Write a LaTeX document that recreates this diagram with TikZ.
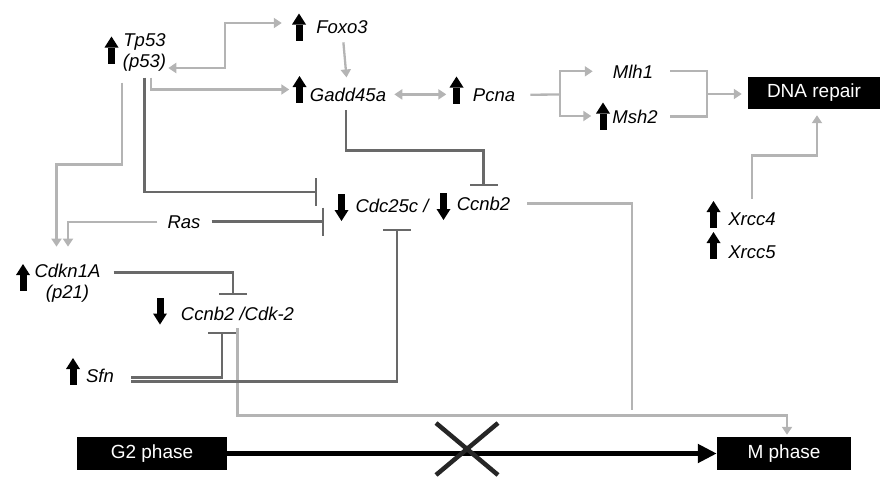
\documentclass[tikz,border=0pt]{standalone}
\usepackage{fontspec}
\setmainfont{Liberation Sans}
\usepackage{tikz}
\usetikzlibrary{positioning, arrows.meta, calc}

\definecolor{lightgrey}{RGB}{180,180,180}
\definecolor{darkgrey}{RGB}{105,105,105}

\tikzset{
    tri/.tip={Triangle[length=8pt,width=10pt]},
    tbar/.tip={Bar[width=28pt]},
    gene/.style={font=\fontsize{18.5}{21}\selectfont\itshape, inner sep=0pt, anchor=base},
    phase/.style={fill=black, text=white, font=\fontsize{19}{21}\selectfont, inner sep=0pt, minimum height=33pt},
    act/.style={draw=lightgrey, line width=2.3pt, -tri},
    inh/.style={draw=darkgrey, line width=2.6pt, -tbar},
    markbox/.style={minimum width=14pt, minimum height=27pt, inner sep=0pt},
    upmark/.pic={
        \fill (-3.5,13.5) rectangle (3.5,-2.5);
        \fill (-7,-2.5) -- (0,-13.5) -- (7,-2.5) -- cycle;
        \node[markbox] (-m) at (0,0) {};
    },
    downmark/.pic={
        \fill (-3.5,-13.5) rectangle (3.5,2.5);
        \fill (-7,2.5) -- (0,13.5) -- (7,2.5) -- cycle;
        \node[markbox] (-m) at (0,0) {};
    },
}

\begin{document}
\begin{tikzpicture}[x=1pt, y=-1pt]
    \useasboundingbox (0,0) rectangle (881,477);

    \node[gene, anchor=center, align=center] (tp) at (144.5,52.5) {Tp53\\(p53)};
    \node[gene] (foxo) at (342,33) {Foxo3};
    \node[gene] (gadd) at (348,101) {Gadd45a};
    \node[gene] (pcna) at (494,101) {Pcna};
    \node[gene] (mlh) at (633,78) {Mlh1};
    \node[gene] (msh) at (635,123) {Msh2};
    \node[gene] (xrccfour) at (752,225) {Xrcc4};
    \node[gene, below of=xrccfour, node distance=33pt] (xrccfive) {Xrcc5};
    \node[gene] (cdc) at (392,212) {Cdc25c /};
    \node[gene] (ccnb) at (483.5,210) {Ccnb2};
    \node[gene] (ras) at (184,228) {Ras};
    \node[gene, anchor=center, align=center] (cdkn) at (67.5,283.5) {Cdkn1A\\(p21)};
    \node[gene] (cdktwo) at (237.5,320) {Ccnb2 /Cdk-2};
    \node[gene] (sfn) at (100,382) {Sfn};

    \node[phase, minimum width=150pt] (gtwo) at (152,453.5) {G2 phase};
    \node[phase, minimum width=134pt] (mph) at (784,453.5) {M phase};
    \node[phase, minimum width=132pt, minimum height=32pt] (dna) at (814,93) {DNA repair};

    \pic (tpup) at (111.5,50) {upmark};
    \pic (foxoup) at (299,27) {upmark};
    \pic (gaddup) at (299.5,89.5) {upmark};
    \pic (pcnaup) at (456.5,90) {upmark};
    \pic (mshup) at (603,116) {upmark};
    \pic (xrccfourup) at (713.5,214.5) {upmark};
    \pic (xrccfiveup) at (713.5,245.5) {upmark};
    \pic (cdknup) at (23,277.5) {upmark};
    \pic (cdcdown) at (341.5,207.5) {downmark};
    \pic (ccnbdown) at (443.5,206.5) {downmark};
    \pic (cdktwodown) at (160,311) {downmark};
    \pic (sfnup) at (73,371.5) {upmark};

    \coordinate (split) at (560,94.5);
    \coordinate (merge) at (707,94);
    \coordinate (join) at (632,407);

    % activation
    \draw[act, tri-tri] ([xshift=2pt,yshift=-15.5pt]tp.east) -- ++(57,0) |- ([xshift=-10pt,yshift=4pt]foxoup-m.west);
    \draw[act, shorten <=9pt, shorten >=10pt] (foxo) -- (gadd);
    \draw[act] ([xshift=6.5pt,yshift=-6pt]tp.south) |- ([xshift=-3pt]gaddup-m.west);
    \draw[act, tri-tri, shorten <=8pt, shorten >=3pt] (gadd.east) -- (gadd.east -| pcnaup-m.west);
    \draw[act, -] ([xshift=15pt]pcna.east) -- (split);
    \draw[act] (split) |- ([xshift=-20pt]mlh.west);
    \draw[act] (split) |- ([xshift=-4.5pt]mshup-m.west);
    \draw[act, -] ([xshift=17pt]mlh.east) -| (merge) |- ([xshift=12pt]msh.east);
    \draw[act, shorten >=6pt] (merge) -- (merge -| dna.west);
    \draw[act, shorten >=6pt] ([yshift=13.5pt]xrccfour.north) -- ++(0,-43) -| ([xshift=3pt]dna.south);
    \draw[act] ([xshift=-22.5pt,yshift=-11pt]tp.south) -- ++(0,82) -| ([xshift=-11pt,yshift=17.5pt]cdkn.north);
    \draw[act] ([xshift=-10pt]ras.west) -| ([xshift=0.5pt,yshift=17.5pt]cdkn.north);
    \draw[act] ([yshift=-8pt]cdktwo.south) -- ++(0,87) -| ([xshift=3pt,yshift=2pt]mph.north);
    \draw[act, -] ([xshift=17pt]ccnb.east) -| ([yshift=-3pt]join);

    % inhibition
    \draw[inh] ([yshift=-6pt]tp.south) |- ([xshift=-17pt,yshift=15.5pt]cdcdown-m.west);
    \draw[inh, shorten >=10pt] ([xshift=11pt]ras.east) -- (ras.east -| cdcdown-m.west);
    \draw[inh] ([xshift=-2pt,yshift=-9pt]gadd.south) -- ++(0,40) -| ([yshift=10pt]ccnb.north);
    \draw[inh] ([xshift=13pt,yshift=11pt]cdkn.east) -| ([xshift=-4.5pt,yshift=11pt]cdktwo.north);
    \draw[inh] ([xshift=17pt,yshift=-2pt]sfn.east) -| ([xshift=-15.5pt,yshift=-11.5pt]cdktwo.south);
    \draw[inh] ([xshift=17pt,yshift=-6pt]sfn.east) -| ([xshift=5pt,yshift=-16.5pt]cdc.south);

    % cell cycle
    \draw[line width=5.5pt, -{Triangle[length=19pt,width=18pt]}] (gtwo) -- (mph);
    \draw[line width=4.5pt, black!85] (436,423) -- (498,475) (498,423) -- (436,475);
\end{tikzpicture}
\end{document}
